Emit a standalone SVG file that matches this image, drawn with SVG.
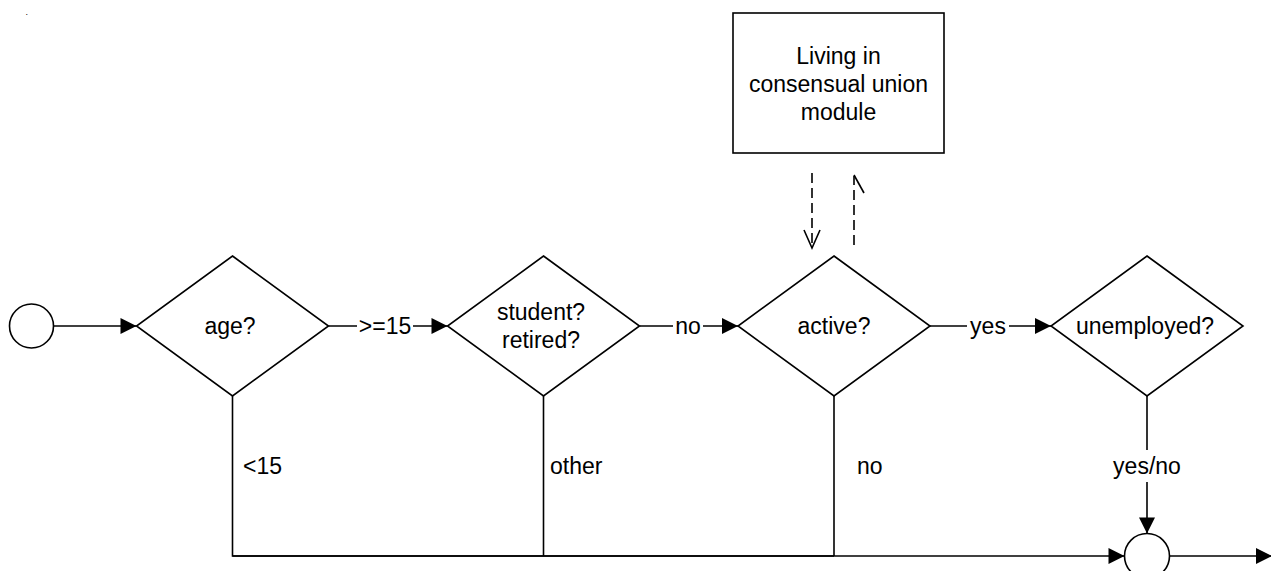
<svg xmlns="http://www.w3.org/2000/svg" width="1271" height="571" viewBox="0 0 1271 571">
<defs>
<style>
.shape{fill:#fff;stroke:#000;stroke-width:1.6}
.line{fill:none;stroke:#000;stroke-width:1.6}
.dash{fill:none;stroke:#000;stroke-width:1.6;stroke-dasharray:10 5}
.t{font-family:"Liberation Sans",Arial,sans-serif;font-size:23px;fill:#000}
.c{text-anchor:middle}
.bg{fill:#fff;stroke:none}
</style>
<marker id="arr" markerUnits="userSpaceOnUse" markerWidth="16" markerHeight="16" viewBox="0 0 16 16" refX="16" refY="8" orient="auto" overflow="visible">
<path d="M0,0 L16,8 L0,16 z" fill="#000"/>
</marker>
</defs>
<rect width="1271" height="571" fill="#fff"/>
<text class="t" x="25.5" y="15" style="font-size:9px">.</text>

<g id="connectors">
<path class="line" d="M53.5,326 H136.5" marker-end="url(#arr)"/>
<path class="line" d="M328.5,326 H447.5" marker-end="url(#arr)"/>
<path class="line" d="M639.5,326 H738" marker-end="url(#arr)"/>
<path class="line" d="M930,326 H1051" marker-end="url(#arr)"/>
<path class="line" d="M232.5,396 V556 H834"/>
<path class="line" d="M543.5,396 V556"/>
<path class="line" d="M834,396 V556"/>
<path class="line" d="M232.5,556 H1124.5" marker-end="url(#arr)"/>
<path class="line" d="M1147,396 V533.5" marker-end="url(#arr)"/>
<path class="line" d="M1169.5,556 H1272" marker-end="url(#arr)"/>
<path class="dash" d="M812,173 V247"/>
<path class="line" d="M804,230 L812,248 L820,230"/>
<path class="dash" d="M854,245 V176"/>
<path class="line" d="M854,175 L864,193"/>
<rect class="bg" x="357" y="312" width="56" height="28"/>
<text class="t c" x="385" y="334">&gt;=15</text>
<rect class="bg" x="673" y="312" width="30" height="28"/>
<text class="t c" x="688" y="334">no</text>
<rect class="bg" x="967" y="312" width="42" height="28"/>
<text class="t c" x="988" y="334">yes</text>
<text class="t" x="243" y="474">&lt;15</text>
<text class="t" x="550" y="474">other</text>
<text class="t" x="857" y="474">no</text>
<rect class="bg" x="1111" y="450" width="72" height="32"/>
<text class="t c" x="1147" y="474">yes/no</text>
</g>

<g id="start">
<circle class="shape" cx="31.5" cy="326" r="22"/>
</g>
<g id="age">
<polygon class="shape" points="232.5,256 328.5,326 232.5,396 136.5,326"/>
<text class="t c" x="230" y="334">age?</text>
</g>
<g id="student">
<polygon class="shape" points="543.5,256 639.5,326 543.5,396 447.5,326"/>
<text class="t c" x="541" y="320">student?</text>
<text class="t c" x="541" y="348">retired?</text>
</g>
<g id="active">
<polygon class="shape" points="834,256 930,326 834,396 738,326"/>
<text class="t c" x="834" y="334">active?</text>
</g>
<g id="unemployed">
<polygon class="shape" points="1147,256 1243,326 1147,396 1051,326"/>
<text class="t c" x="1145" y="334">unemployed?</text>
</g>
<g id="module">
<rect class="shape" x="733" y="13" width="211" height="140"/>
<text class="t c" x="838.5" y="64">Living in</text>
<text class="t c" x="838.5" y="92">consensual union</text>
<text class="t c" x="838.5" y="120">module</text>
</g>
<g id="end">
<circle class="shape" cx="1147" cy="556" r="22.5"/>
</g>
</svg>
